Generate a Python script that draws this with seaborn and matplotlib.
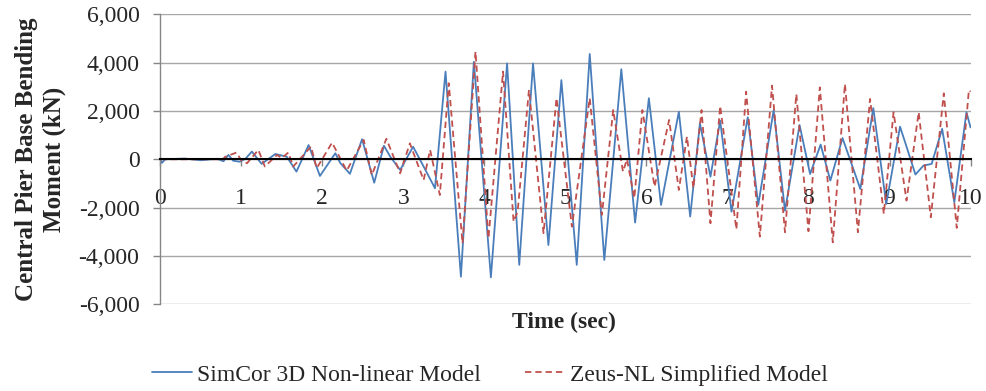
import pandas as pd
import matplotlib.pyplot as plt
import seaborn as sns
from matplotlib.ticker import FuncFormatter

# SimCor 3D Non-linear Model (peaks / troughs)
simcor_t = [0.00, 0.02, 0.06, 0.30, 0.50, 0.70, 0.78, 0.84, 0.90, 0.98, 1.05, 1.13, 1.25,
            1.42, 1.56, 1.68, 1.83, 1.97, 2.16, 2.22, 2.34, 2.49, 2.64, 2.76, 2.84, 2.96,
            3.12, 3.25, 3.39, 3.52, 3.71, 3.87, 4.08, 4.28, 4.43, 4.60, 4.79, 4.95, 5.14,
            5.30, 5.48, 5.69, 5.86, 6.03, 6.18, 6.40, 6.54, 6.66, 6.79, 6.91, 7.05, 7.25,
            7.38, 7.57, 7.71, 7.89, 8.02, 8.15, 8.27, 8.42, 8.64, 8.80, 8.96, 9.13, 9.20,
            9.32, 9.42, 9.52, 9.65, 9.80, 9.95, 10.00]
simcor_m = [0, -150, 0, 30, -40, 20, -80, 180, -60, -100, 20, 320, -190,
            220, 110, -510, 590, -690, 250, -150, -600, 830, -970, 560, 100, -440,
            520, -300, -1200, 3630, -4860, 4040, -4890, 3970, -4370, 3970, -3550, 3280, -4370,
            4360, -4170, 3730, -2620, 2530, -1890, 1970, -2370, 1490, -720, 1600, -2170, 1740,
            -1890, 2040, -2130, 1420, -610, 610, -880, 880, -1230, 2120, -1850, 1350, 630,
            -630, -260, -190, 1260, -1780, 1950, 1320]

# Zeus-NL Simplified Model
zeus_t = [0.00, 0.70, 0.76, 0.80, 0.94, 1.00, 1.07, 1.21, 1.29, 1.44, 1.50, 1.58, 1.64,
          1.86, 1.93, 2.12, 2.30, 2.51, 2.61, 2.79, 2.96, 3.08, 3.25, 3.33, 3.45, 3.56,
          3.73, 3.89, 4.05, 4.23, 4.36, 4.41, 4.55, 4.73, 4.89, 5.08, 5.30, 5.45, 5.59,
          5.71, 5.76, 5.85, 5.95, 6.10, 6.28, 6.40, 6.50, 6.58, 6.68, 6.79, 6.91, 7.11,
          7.23, 7.40, 7.55, 7.71, 7.85, 8.00, 8.14, 8.30, 8.45, 8.61, 8.76, 8.93, 9.05,
          9.21, 9.36, 9.51, 9.67, 9.83, 9.98, 10.00]
zeus_m = [0, 0, -40, 100, 280, -50, -165, 390, -300, 180, 50, 280, -300,
          525, -370, 690, -470, 800, -650, 850, -580, 660, -860, 390, -1480, 3150,
          -3480, 4460, -3270, 3630, -2580, -2170, 2870, -3060, 2530, -2790, 2530, -2300, 2040,
          -510, 0, -1610, 2040, -1130, 1630, -1270, 940, -1200, 2040, -2650, 2210, -2900,
          2800, -3200, 3050, -3020, 2700, -2980, 2980, -3440, 3120, -3020, 2500, -2260, 1950,
          -1710, 1950, -2400, 2730, -2840, 2870, 2800]

x_ticks = list(range(0, 11))
y_ticks = [-6000, -4000, -2000, 0, 2000, 4000, 6000]

sns.set_style('white')
plt.rcParams['font.family'] = ['Liberation Serif', 'DejaVu Serif']

simcor = pd.DataFrame({'t': simcor_t, 'm': simcor_m})
zeus = pd.DataFrame({'t': zeus_t, 'm': zeus_m})

fig = plt.figure(figsize=(9.86, 3.91), dpi=100)
ax = fig.add_axes([0.1626, 0.222, 0.8217, 0.7412])

sns.lineplot(data=simcor, x='t', y='m', color='#4a7ebb', lw=1.3, ax=ax,
             label='SimCor 3D Non-linear Model')
sns.lineplot(data=zeus, x='t', y='m', color='#c0504d', lw=1.3, ax=ax,
             linestyle=(0, (3.5, 2.2)), label='Zeus-NL Simplified Model')

ax.set_xlim(0, 10)
ax.set_ylim(-6000, 6000)
ax.set_xticks(x_ticks)
ax.set_yticks(y_ticks)
ax.yaxis.set_major_formatter(FuncFormatter(lambda v, p: f'{v:,.0f}'))
ax.set_xlabel('')
ax.set_ylabel('')

ax.yaxis.grid(True, color='#a6a6a6', lw=1)
ax.xaxis.grid(False)
ax.set_axisbelow(True)
for s in ['top', 'right']:
    ax.spines[s].set_visible(False)
ax.spines['bottom'].set_position(('data', 0))
ax.spines['bottom'].set_color('black')
ax.spines['bottom'].set_linewidth(1.5)
ax.spines['bottom'].set_zorder(5)
ax.spines['left'].set_color('#868686')
ax.spines['left'].set_linewidth(1)

ax.tick_params(axis='x', bottom=True, direction='out', length=5, width=1,
               color='#868686', pad=16, labelsize=17)
ax.tick_params(axis='y', left=True, direction='out', length=5, width=1,
               color='#868686', pad=10, labelsize=17)

fig.text(0.572, 0.176, 'Time (sec)', ha='center', va='center',
         fontsize=17, fontweight='bold')
fig.text(0.041, 0.592, 'Central Pier Base Bending\nMoment (kN)', rotation=90,
         ha='center', va='center', fontsize=18, fontweight='bold', linespacing=1.3)

ax.legend(loc='center', bbox_to_anchor=(0.497, 0.041), bbox_transform=fig.transFigure,
          ncol=2, frameon=False, fontsize=17, handlelength=1.7, handletextpad=0.2,
          columnspacing=1.9)

plt.savefig('out.png', dpi=100)
